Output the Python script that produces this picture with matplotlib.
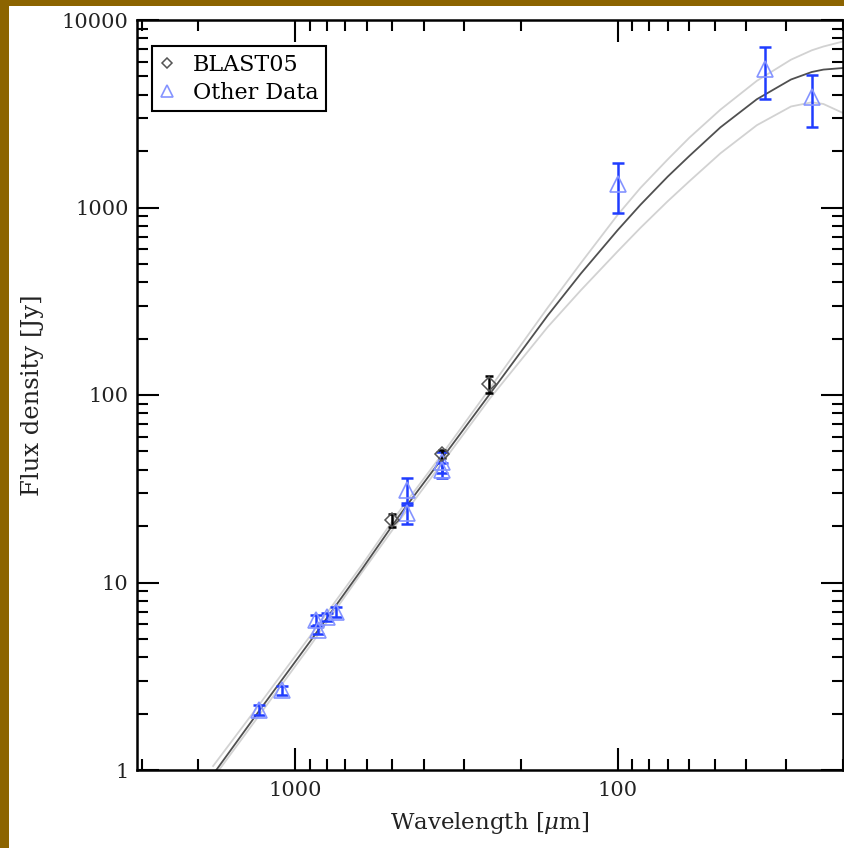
import numpy as np
import matplotlib
matplotlib.use("Agg")
import matplotlib.pyplot as plt
from matplotlib.patches import Rectangle
from matplotlib.ticker import FuncFormatter, NullFormatter

plt.rcParams["font.family"] = ["DejaVu Serif"]
plt.rcParams["mathtext.fontset"] = "dejavuserif"

# ---- data ----
# BLAST05 points
blast_wl = [500, 350, 250]
blast_flux = [21.5, 48.4, 114]
blast_err = [1.8, 2.5, 12]

# other data points
other_wl = [1300, 1100, 860, 850, 800, 750, 450, 450, 350, 350, 100, 35, 25]
other_flux = [2.09, 2.67, 6.3, 5.6, 6.55, 6.97, 31.0, 23.5, 44.0, 39.8, 1330, 5500, 3900]
other_err = [0.12, 0.15, 0.45, 0.3, 0.3, 0.45, 5.0, 3.0, 5.5, 3.5, 400, 1700, 1200]

# fitted SED curves (best fit and the two bounds)
sed_wl = [1800, 1300, 900, 620, 480, 350, 250, 165, 130, 100, 85, 70, 60, 48, 37, 29, 25, 23, 20]
sed_mid = [0.947, 2.05, 4.85, 11.85, 22.3, 46.1, 100.6, 265.2, 445.1, 757.8, 1034, 1460, 1880,
           2677, 3781, 4816, 5281, 5439, 5546]
sed_high = [1.05, 2.21, 5.18, 12.47, 23.5, 48.5, 107.7, 291.8, 506.5, 914, 1272, 1803, 2353,
            3327, 4740, 6143, 6892, 7222, 7681]
sed_low = [0.906, 1.94, 4.59, 11.4, 21.0, 43.5, 95.2, 230.2, 362.6, 584, 779, 1079, 1378,
           1946, 2748, 3457, 3640, 3565, 3192]

blue = "#1f3cff"
light_blue = "#8594ff"

fig = plt.figure(figsize=(8.45, 8.48), dpi=100)
fig.patch.set_facecolor("#8c6400")
fig.patches.append(Rectangle((9 / 845, 0), 1, 1 - 6 / 848, transform=fig.transFigure,
                             facecolor="white", edgecolor="none", zorder=-10))

ax = fig.add_axes([137 / 845, 78 / 848, 706 / 845, 750 / 848])
ax.set_facecolor("white")
ax.set_xscale("log")
ax.set_yscale("log")

ax.plot(sed_wl, sed_high, color="#d2d2d2", lw=1.3, zorder=1)
ax.plot(sed_wl, sed_low, color="#d2d2d2", lw=1.3, zorder=1)
ax.plot(sed_wl, sed_mid, color="#505050", lw=1.3, zorder=2)

ax.errorbar(other_wl, other_flux, yerr=other_err, fmt="none", ecolor=blue,
            elinewidth=1.8, capsize=4, capthick=1.8, zorder=3)
ax.plot(other_wl, other_flux, ls="none", marker="^", ms=11, mfc="none",
        mec=light_blue, mew=1.2, zorder=4, label="Other Data")

ax.errorbar(blast_wl, blast_flux, yerr=blast_err, fmt="none", ecolor="black",
            elinewidth=1.8, capsize=3, capthick=1.8, zorder=3)
ax.plot(blast_wl, blast_flux, ls="none", marker="D", ms=7, mfc="none",
        mec="#555555", mew=1.1, zorder=4, label="BLAST05")

ax.set_xlim(3100, 20)
ax.set_ylim(1, 10000)

fmt = FuncFormatter(lambda v, p: f"{v:g}")
ax.xaxis.set_major_formatter(fmt)
ax.yaxis.set_major_formatter(fmt)
ax.xaxis.set_minor_formatter(NullFormatter())
ax.yaxis.set_minor_formatter(NullFormatter())

ax.tick_params(which="both", direction="in", top=True, right=True, width=1.5,
               labelsize=15, labelcolor="#222222")
ax.tick_params(which="major", length=16)
ax.tick_params(axis="x", which="major", pad=8)
ax.tick_params(axis="y", which="major", pad=6)
ax.tick_params(which="minor", length=8)
for s in ax.spines.values():
    s.set_linewidth(1.8)

ax.set_xlabel(r"Wavelength [$\mu$m]", fontsize=16.5, labelpad=7, color="#222222")
ax.set_ylabel("Flux density [Jy]", fontsize=17.5, labelpad=13, color="#222222")

h, l = ax.get_legend_handles_labels()
leg = ax.legend(h[::-1], l[::-1], loc="upper left", bbox_to_anchor=(0.021, 0.965),
                borderaxespad=0, fontsize=16, fancybox=False, handlelength=0.7,
                handletextpad=0.8, borderpad=0.35, labelspacing=0.25, markerscale=0.8)
leg.get_frame().set_edgecolor("black")
leg.get_frame().set_linewidth(1.5)
leg.get_frame().set_alpha(1)

fig.savefig("out.png", dpi=100, facecolor=fig.get_facecolor())
